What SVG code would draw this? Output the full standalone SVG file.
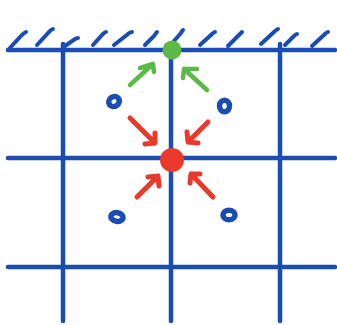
<svg xmlns="http://www.w3.org/2000/svg" width="337" height="325" viewBox="0 0 337 325">
<style>
.b{stroke:#1b4cb4;stroke-width:4.5;stroke-linecap:round;fill:none}
.h{stroke:#1b4cb4;stroke-width:4;stroke-linecap:round;fill:none}
.o{stroke:#1b4cb4;stroke-width:5.5;fill:none}
.g{stroke:#5db946;stroke-width:4.5;stroke-linecap:round;stroke-linejoin:round;fill:none}
.r{stroke:#e9392a;stroke-width:5;stroke-linecap:round;stroke-linejoin:round;fill:none}
</style>
<rect width="337" height="325" fill="#ffffff"/>
<g id="grid">
<line class="b" x1="8" y1="50" x2="335" y2="50"/>
<line class="b" x1="8" y1="158" x2="335" y2="158"/>
<line class="b" x1="8" y1="267" x2="335" y2="267"/>
<line class="b" x1="63" y1="44" x2="63" y2="321"/>
<line class="b" x1="171" y1="50" x2="171" y2="321"/>
<line class="b" x1="280" y1="44" x2="280" y2="321"/>
</g>
<g id="hatches">
<path class="h" d="M8 50 L22 35 Q24 33 26 32"/>
<path class="h" d="M37 45 L50 31 Q52 29 53 29"/>
<path class="h" d="M65 46 L75 39 Q77 38 78 38"/>
<path class="h" d="M93 45 L103 34 Q105 32 106 32"/>
<path class="h" d="M114 45 L128 34 Q130 32 132 32"/>
<path class="h" d="M145 45 L154 36 Q156 33 157 32"/>
<path class="h" d="M174 41 L181 33 Q182 31 183 30"/>
<path class="h" d="M200 45 L212 34 Q214 32 215 32"/>
<path class="h" d="M228 46 L239 35 Q241 33 242 32"/>
<path class="h" d="M261 44 L274 32 Q276 30 278 29"/>
<path class="h" d="M285 45 L294 36 Q296 34 297 34"/>
<path class="h" d="M312 46 L325 34 Q327 32 328 32"/>
</g>
<g id="green-node">
<circle cx="172" cy="50" r="9.5" fill="#5db946"/>
</g>
<g id="red-node">
<circle cx="172" cy="160" r="12" fill="#e9392a"/>
</g>
<g id="particles">
<ellipse class="o" cx="114" cy="101.5" rx="5.5" ry="4.8" transform="rotate(-35 114 101.5)"/>
<ellipse class="o" cx="224.5" cy="106" rx="5" ry="5.8"/>
<ellipse class="o" cx="117" cy="217" rx="6.2" ry="4.3" transform="rotate(10 117 217)"/>
<ellipse class="o" cx="229" cy="215" rx="6" ry="4.8"/>
</g>
<g id="connectors">
<path class="g" d="M130 85 L153 64 M140 68 L153 64 L154 72"/>
<path class="g" d="M207 90 L184 69 M197 69 L184 69 L183 78"/>
<path class="r" d="M130 118 L155 143 M145 144 L155 143 L155 133"/>
<path class="r" d="M208 122 L188 142 M187 132 L188 142 L198 143"/>
<path class="r" d="M137 197 L158 176 M148 177 L158 176 L159 186"/>
<path class="r" d="M213 197 L191 174 M190 183 L191 174 L200 174"/>
</g>
</svg>
